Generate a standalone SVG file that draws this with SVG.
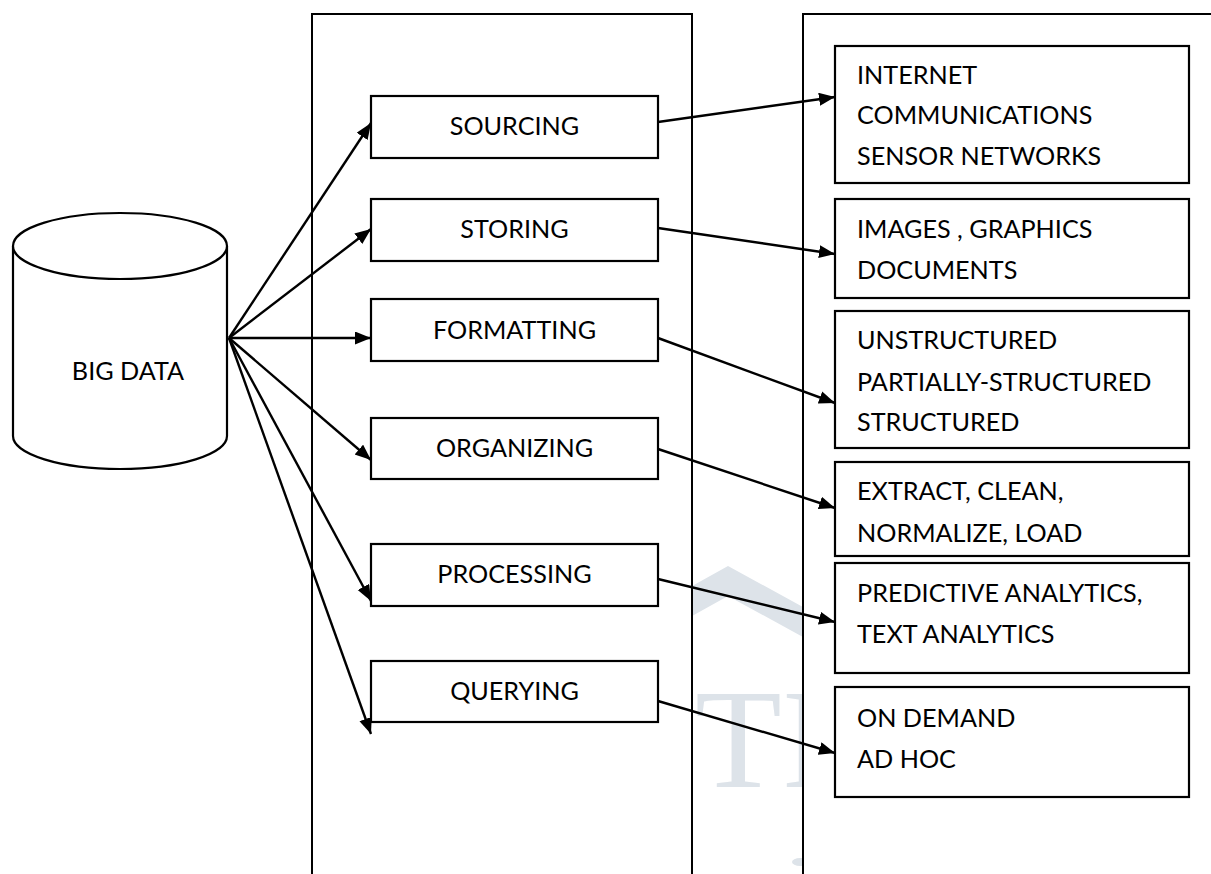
<svg xmlns="http://www.w3.org/2000/svg" width="1211" height="874" viewBox="0 0 1211 874">
  <style>
    .panel { fill: #ffffff; stroke: #000000; stroke-width: 2; }
    .box { fill: #ffffff; stroke: #000000; stroke-width: 2.2; }
    .lbl { font-family: Lato, "Liberation Sans", sans-serif; font-size: 25.2px; fill: #000000; }
    .mid { text-anchor: middle; }
    .wire { fill: none; stroke: #000000; stroke-width: 2.4; marker-end: url(#arrow); }
    .mark { fill: #dde3e9; }
    .mark-text { font-family: "Liberation Serif", serif; font-size: 142px; fill: #dde3e9; }
  </style>
  <defs>
    <marker id="arrow" markerUnits="userSpaceOnUse" markerWidth="18" markerHeight="14" refX="16" refY="6.5" orient="auto">
      <path d="M0,0 L16,6.5 L0,13 z" fill="#000000"/>
    </marker>
    <clipPath id="gap"><rect x="693" y="0" width="109" height="874"/></clipPath>
  </defs>

  <rect width="1211" height="874" fill="#ffffff"/>

  <!-- two column panels (open at the bottom / right) -->
  <g id="panels">
    <rect id="panel-stages" class="panel" x="312" y="14" width="380" height="900"/>
    <rect id="panel-details" class="panel" x="803" y="14" width="500" height="900"/>
  </g>

  <!-- faint watermark, visible only in the gap between panels -->
  <g id="watermark" clip-path="url(#gap)">
    <polygon class="mark" points="728,566 900,660 900,690 728,596 560,690 560,660"/>
    <text class="mark-text" x="695" y="787">TI</text>
    <ellipse class="mark" cx="800" cy="862" rx="8" ry="4"/>
  </g>

  <!-- source cylinder -->
  <g id="big-data">
    <path class="box" d="M13,246 L13,436 A107,33 0 0 0 227,436 L227,246"/>
    <ellipse class="box" cx="120" cy="246" rx="107" ry="33"/>
    <text class="lbl mid" x="128" y="380">BIG DATA</text>
  </g>

  <!-- stage boxes -->
  <g id="sourcing">
    <rect class="box" x="371" y="96" width="287" height="62"/>
    <text class="lbl mid" x="514.5" y="135">SOURCING</text>
  </g>
  <g id="storing">
    <rect class="box" x="371" y="199" width="287" height="62"/>
    <text class="lbl mid" x="514.5" y="238">STORING</text>
  </g>
  <g id="formatting">
    <rect class="box" x="371" y="299" width="287" height="62"/>
    <text class="lbl mid" x="514.5" y="339">FORMATTING</text>
  </g>
  <g id="organizing">
    <rect class="box" x="371" y="418" width="287" height="61"/>
    <text class="lbl mid" x="514.5" y="457">ORGANIZING</text>
  </g>
  <g id="processing">
    <rect class="box" x="371" y="544" width="287" height="62"/>
    <text class="lbl mid" x="514.5" y="583">PROCESSING</text>
  </g>
  <g id="querying">
    <rect class="box" x="371" y="661" width="287" height="61"/>
    <text class="lbl mid" x="514.5" y="700">QUERYING</text>
  </g>

  <!-- detail boxes -->
  <g id="sources">
    <rect class="box" x="835" y="46" width="354" height="137"/>
    <text class="lbl" x="857" y="84">INTERNET</text>
    <text class="lbl" x="857" y="124">COMMUNICATIONS</text>
    <text class="lbl" x="857" y="165">SENSOR NETWORKS</text>
  </g>
  <g id="stores">
    <rect class="box" x="835" y="199" width="354" height="99"/>
    <text class="lbl" x="857" y="238">IMAGES , GRAPHICS</text>
    <text class="lbl" x="857" y="279">DOCUMENTS</text>
  </g>
  <g id="formats">
    <rect class="box" x="835" y="311" width="354" height="137"/>
    <text class="lbl" x="857" y="349">UNSTRUCTURED</text>
    <text class="lbl" x="857" y="391">PARTIALLY-STRUCTURED</text>
    <text class="lbl" x="857" y="431">STRUCTURED</text>
  </g>
  <g id="etl">
    <rect class="box" x="835" y="462" width="354" height="94"/>
    <text class="lbl" x="857" y="500">EXTRACT, CLEAN,</text>
    <text class="lbl" x="857" y="542">NORMALIZE, LOAD</text>
  </g>
  <g id="analytics">
    <rect class="box" x="835" y="563" width="354" height="110"/>
    <text class="lbl" x="857" y="602">PREDICTIVE ANALYTICS,</text>
    <text class="lbl" x="857" y="643">TEXT ANALYTICS</text>
  </g>
  <g id="queries">
    <rect class="box" x="835" y="687" width="354" height="110"/>
    <text class="lbl" x="857" y="727">ON DEMAND</text>
    <text class="lbl" x="857" y="768">AD HOC</text>
  </g>

  <!-- connectors -->
  <g id="connectors">
    <line class="wire" x1="229" y1="338" x2="371" y2="123"/>
    <line class="wire" x1="229" y1="338" x2="371" y2="229"/>
    <line class="wire" x1="229" y1="338" x2="371" y2="338"/>
    <line class="wire" x1="229" y1="338" x2="371" y2="460"/>
    <line class="wire" x1="229" y1="338" x2="371" y2="601"/>
    <line class="wire" x1="229" y1="338" x2="371" y2="734"/>

    <line class="wire" x1="658" y1="122" x2="835" y2="97"/>
    <line class="wire" x1="658" y1="228" x2="835" y2="254"/>
    <line class="wire" x1="658" y1="338" x2="835" y2="403"/>
    <line class="wire" x1="658" y1="449" x2="835" y2="508"/>
    <line class="wire" x1="658" y1="579" x2="835" y2="622"/>
    <line class="wire" x1="658" y1="701" x2="835" y2="753"/>
  </g>
</svg>
